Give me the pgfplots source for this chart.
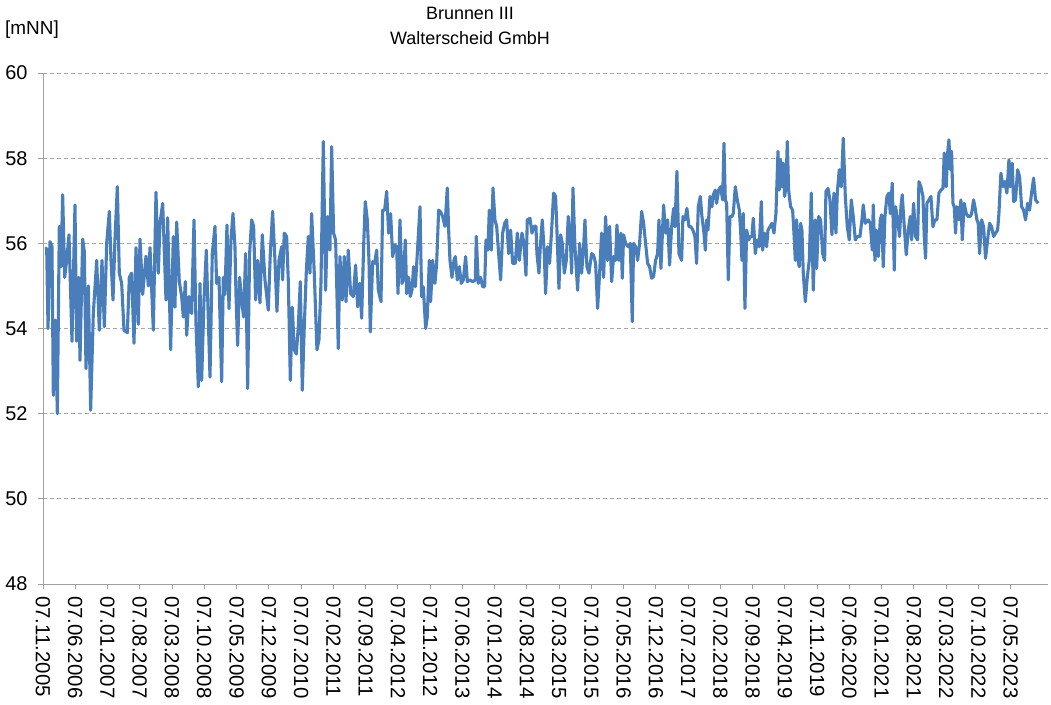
\documentclass[border=0pt]{standalone}
\usepackage{pgfplots}
\pgfplotsset{compat=1.18}
\usepackage{pgfplotstable}
\usepackage{fontspec}
\setmainfont{Liberation Sans}
\definecolor{linec}{HTML}{4A7EBB}
\definecolor{gridc}{HTML}{A6A6A6}
\definecolor{axc}{HTML}{A0A0A0}

% x = months since 07.11.2005, y = water level [mNN]
\pgfplotstableread{
x y
0.43 55.88
0.80 55.88
1.09 54.00
1.52 56.04
1.95 55.92
2.24 52.43
2.68 54.20
3.11 52.00
3.54 56.40
3.91 55.45
4.27 57.14
4.70 55.20
5.14 55.60
5.64 56.20
6.29 53.70
6.94 56.90
7.30 53.70
7.74 55.20
8.03 53.25
8.61 56.10
8.97 55.80
9.33 53.06
9.84 55.00
10.34 52.08
10.92 54.35
11.65 55.60
12.22 53.96
12.80 55.60
13.31 54.04
13.82 56.00
14.39 56.75
14.76 55.60
15.19 54.67
15.62 56.10
16.13 57.33
16.56 55.30
17.07 55.06
17.58 53.96
18.30 53.90
18.73 55.20
19.24 55.30
19.75 53.65
20.18 55.90
20.69 54.10
21.05 56.10
21.63 54.80
22.35 55.70
22.86 55.00
23.22 55.90
23.94 53.96
24.52 57.20
25.03 55.30
25.39 56.47
25.97 56.94
26.69 54.67
27.05 56.60
27.70 53.50
28.28 56.16
28.64 54.50
29.01 56.50
29.58 55.10
30.09 54.75
30.45 54.27
30.89 55.10
31.18 53.84
31.68 54.75
32.26 54.35
32.77 56.55
33.20 54.10
33.71 52.63
34.07 55.06
34.43 52.78
34.94 54.67
35.44 55.84
35.88 54.20
36.24 52.86
36.74 55.76
37.32 56.40
37.68 55.06
38.19 55.20
38.77 52.75
39.13 55.20
39.49 54.80
39.92 56.43
40.36 54.47
40.79 56.08
41.23 56.70
41.66 55.92
41.88 54.80
42.24 53.60
42.67 55.20
43.11 54.67
43.54 54.27
43.97 55.76
44.41 52.59
44.84 55.76
45.28 56.55
45.71 56.40
46.14 54.67
46.58 55.60
47.08 54.60
47.59 56.20
48.17 55.14
48.89 54.43
49.33 55.76
49.83 56.75
50.34 55.60
50.77 54.40
51.21 55.60
51.79 55.92
52.00 55.14
52.36 56.24
52.87 56.16
53.23 55.14
53.67 52.78
54.10 54.50
54.53 53.50
54.97 53.40
55.40 54.04
55.84 55.10
56.27 52.55
56.70 54.04
57.14 55.33
57.57 56.16
57.93 55.30
58.30 56.70
58.87 55.30
59.45 53.50
59.89 53.73
60.32 55.06
60.83 58.39
61.33 54.90
61.77 56.63
62.27 55.84
62.64 58.27
63.07 56.24
63.50 56.08
64.08 53.53
64.44 55.69
64.95 54.67
65.38 55.69
65.75 54.63
66.25 55.84
66.76 54.82
67.34 54.75
67.84 55.49
68.28 54.51
68.78 55.06
69.15 54.24
69.58 55.92
69.94 56.98
70.38 56.55
70.74 55.60
71.03 53.92
71.54 55.57
71.97 55.53
72.41 55.84
72.77 54.90
73.35 54.63
73.71 56.78
74.14 56.78
74.58 57.22
75.01 56.24
75.44 56.70
75.88 55.69
76.38 55.96
76.75 55.92
77.04 54.82
77.47 56.55
77.90 55.06
78.19 55.14
78.63 56.08
78.92 54.82
79.35 55.20
79.71 54.75
80.07 54.90
80.43 55.45
80.80 54.98
81.23 55.76
81.81 56.86
82.17 54.75
82.53 54.98
83.04 54.00
83.40 54.27
83.83 55.60
84.12 54.63
84.56 55.60
85.06 55.06
85.43 55.53
85.86 56.78
86.29 56.74
86.73 56.63
87.23 56.40
87.74 57.30
88.03 56.31
88.32 55.60
88.75 55.20
89.19 55.60
89.48 55.69
89.91 55.14
90.34 55.45
90.78 55.06
91.21 55.14
91.72 55.69
92.08 55.10
92.66 55.14
93.24 55.10
93.82 55.14
94.03 56.16
94.47 55.06
94.97 55.20
95.41 54.98
95.84 54.98
96.13 56.08
96.56 55.84
96.85 56.78
97.29 55.84
97.65 57.30
98.08 56.55
98.45 56.40
98.88 55.76
99.31 55.14
99.75 56.24
100.18 56.47
100.62 56.55
101.05 55.76
101.48 56.31
101.92 55.53
102.50 55.53
102.93 56.24
103.36 55.60
103.94 56.24
104.38 56.00
104.81 55.25
105.10 56.55
105.68 56.59
106.11 56.24
106.55 56.40
106.98 56.40
107.19 55.76
107.63 55.30
107.92 55.92
108.35 56.55
108.79 55.76
109.07 54.82
109.51 55.92
109.94 55.53
110.38 56.31
110.81 57.18
111.24 57.10
111.53 56.31
111.97 54.94
112.33 56.20
112.69 56.00
113.13 55.30
113.56 55.60
113.99 56.63
114.43 56.12
114.72 55.30
115.01 57.30
115.44 55.92
116.02 54.90
116.45 56.00
116.89 55.30
117.32 55.92
117.61 56.55
118.04 55.45
118.48 55.30
119.06 55.76
119.49 55.72
119.92 55.53
120.36 54.47
120.79 55.30
121.23 56.24
121.66 55.20
122.09 56.63
122.53 55.60
122.96 56.40
123.40 55.10
123.83 55.69
124.26 55.60
124.55 56.43
124.99 55.60
125.42 56.24
125.71 55.18
126.00 56.20
126.43 56.00
127.01 55.92
127.45 56.00
127.88 54.16
128.17 56.00
128.60 55.92
129.04 55.60
129.47 56.00
129.91 56.75
130.34 56.47
130.77 56.00
131.21 55.53
131.64 55.45
132.08 55.18
132.51 55.22
132.94 55.60
133.38 55.76
133.67 56.55
134.10 55.41
134.68 56.90
135.11 56.24
135.55 56.55
135.98 55.49
136.42 56.39
136.85 56.82
137.14 56.39
137.57 57.69
138.01 55.76
138.59 55.60
138.87 56.63
139.31 56.55
139.74 56.82
140.18 56.39
140.61 56.39
141.04 56.31
141.48 56.16
141.84 55.53
142.20 56.86
142.64 57.10
143.00 56.63
143.44 56.24
143.73 55.84
144.02 56.55
144.31 56.31
144.74 57.10
145.17 56.86
145.46 57.14
145.90 57.25
146.19 56.94
146.62 57.25
147.05 57.33
147.49 57.02
147.78 58.35
148.07 57.02
148.36 56.94
148.72 55.14
149.08 56.63
149.51 56.63
149.80 56.70
150.24 57.33
150.67 57.02
151.11 56.78
151.39 56.31
151.68 55.60
151.97 56.70
152.33 54.47
152.70 56.31
153.13 56.08
153.56 56.16
153.85 56.16
154.14 56.59
154.58 55.76
155.01 56.08
155.44 55.92
155.88 56.98
156.17 55.84
156.60 56.24
157.04 55.92
157.33 56.31
157.76 56.39
158.19 56.47
158.63 56.24
159.06 56.70
159.50 58.16
159.78 57.25
160.07 57.96
160.36 57.33
160.65 57.88
160.94 57.10
161.23 57.33
161.52 58.39
161.81 57.25
162.24 56.86
162.68 56.78
162.97 56.24
163.26 55.60
163.55 56.55
163.84 55.60
164.12 55.45
164.41 56.47
164.70 56.31
164.99 55.30
165.43 54.63
165.86 55.20
166.29 55.60
166.73 57.18
167.16 54.90
167.60 56.55
167.89 55.41
168.32 56.63
168.75 56.55
169.19 55.76
169.62 55.60
169.91 57.22
170.35 57.29
170.78 57.02
171.21 56.20
171.65 57.18
172.08 56.24
172.37 57.18
172.80 57.73
173.24 57.33
173.67 58.47
174.11 57.10
174.54 56.39
174.97 56.08
175.41 57.02
175.84 56.63
176.28 56.08
176.71 56.16
177.29 56.16
177.72 56.55
178.01 56.90
178.45 56.47
179.09 56.55
179.53 56.47
179.96 55.84
180.18 56.90
180.54 55.60
180.83 56.31
181.26 55.69
181.70 56.55
181.99 56.67
182.35 55.45
182.71 56.63
183.14 57.10
183.58 57.18
183.87 56.70
184.30 57.41
184.74 55.37
185.02 56.86
185.46 56.55
185.89 56.16
186.18 56.86
186.47 57.14
186.91 56.39
187.34 55.73
187.77 56.31
188.21 56.63
188.50 56.08
188.93 56.94
189.36 56.16
189.80 56.08
190.09 57.45
190.52 57.33
190.96 57.10
191.24 56.16
191.53 55.65
191.82 56.94
192.26 57.02
192.69 57.10
193.13 56.39
193.56 56.55
193.99 56.55
194.43 57.18
194.86 57.25
195.30 57.29
195.58 58.12
196.02 57.33
196.31 58.12
196.60 58.43
196.89 57.73
197.18 58.16
197.47 56.94
197.75 56.86
198.04 56.24
198.33 56.86
198.77 56.55
199.20 57.02
199.49 56.08
199.92 56.94
200.36 56.70
200.79 56.63
201.23 56.63
201.52 56.70
201.95 57.02
202.24 56.86
202.67 56.55
202.96 56.47
203.25 55.76
203.69 56.55
204.12 56.39
204.55 55.65
204.99 56.08
205.42 56.47
205.86 56.39
206.29 56.16
206.72 56.24
207.16 56.31
207.45 56.70
207.88 57.65
208.32 57.33
208.75 57.45
209.18 57.18
209.62 57.96
209.91 57.33
210.34 57.88
210.63 56.98
211.06 57.02
211.50 57.73
211.93 57.57
212.37 56.86
212.80 56.78
213.23 56.55
213.67 56.94
214.10 56.78
214.53 57.18
214.97 57.53
215.40 57.02
215.98 56.94
}\leveldata

\begin{document}
\begin{tikzpicture}
\begin{axis}[
  name=ax,
  scale only axis,
  width=1005bp, height=511bp,
  xmin=0, xmax=218.1, ymin=48, ymax=60,
  axis x line*=bottom, axis y line*=left,
  axis line style={axc, line width=0.9bp, -},
  xtick={0,7,...,210},
  xticklabels={07.11.2005,07.06.2006,07.01.2007,07.08.2007,07.03.2008,07.10.2008,07.05.2009,07.12.2009,07.07.2010,07.02.2011,07.09.2011,07.04.2012,07.11.2012,07.06.2013,07.01.2014,07.08.2014,07.03.2015,07.10.2015,07.05.2016,07.12.2016,07.07.2017,07.02.2018,07.09.2018,07.04.2019,07.11.2019,07.06.2020,07.01.2021,07.08.2021,07.03.2022,07.10.2022,07.05.2023},
  ytick={48,50,...,60},
  xtick pos=bottom, ytick pos=left,
  tick align=outside,
  major tick length=5bp,
  tick style={axc, line width=0.9bp},
  xticklabel style={rotate=-90, anchor=west, font=\fontsize{20.5}{20.5}\selectfont, text=black, inner sep=0bp, xshift=7bp},
  yticklabel style={font=\fontsize{20}{20}\selectfont, text=black, xshift=-7bp},
  /pgf/number format/assume math mode=true,
  ymajorgrids,
  grid style={gridc, line width=0.9bp, dash pattern=on 4bp off 3bp},
]
\addplot[linec, line width=3.1bp, line join=round, mark=none] table[x=x, y=y] {\leveldata};
\end{axis}
\node[align=center, font=\fontsize{18}{25}\selectfont] at ([xshift=427bp, yshift=47bp]ax.north west) {Brunnen III\\Walterscheid GmbH};
\node[anchor=west, font=\fontsize{19}{19}\selectfont, inner sep=0pt] at ([xshift=-38bp, yshift=43bp]ax.north west) {[mNN]};
\path ([shift={(-43bp,-121bp)}]ax.south west) rectangle ([shift={(3bp,73bp)}]ax.north east);
\end{tikzpicture}
\end{document}
